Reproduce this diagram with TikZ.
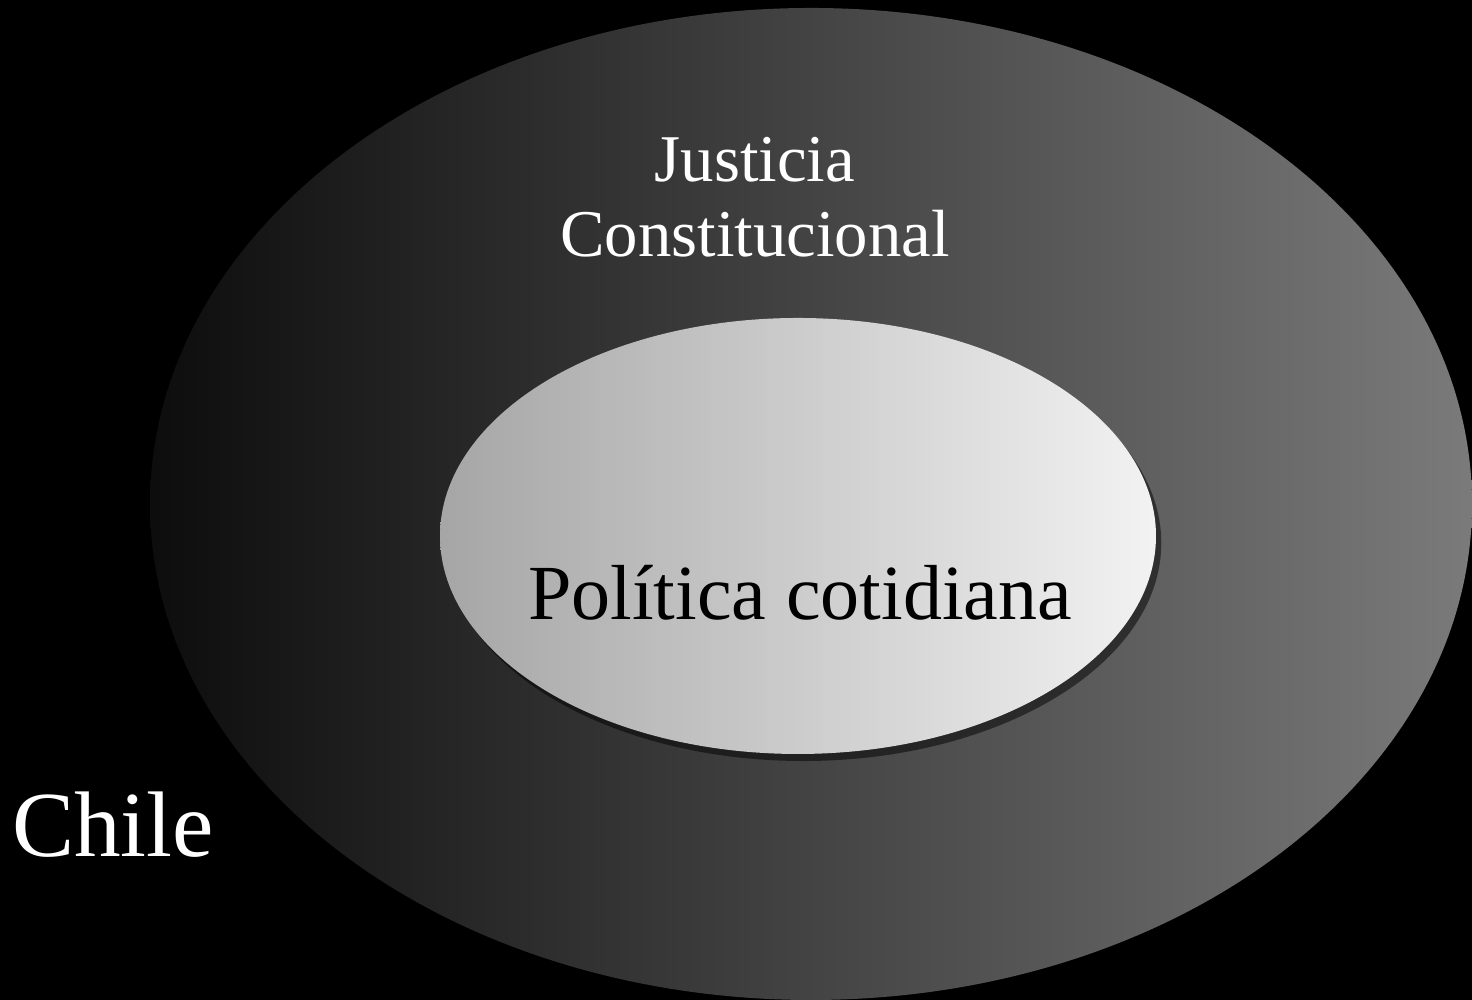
\documentclass[tikz,border=0pt]{standalone}
\usepackage{fontspec}
\setmainfont{Liberation Serif}
\usetikzlibrary{shadows}

\tikzset{
  blanco/.style={text=white, inner sep=0pt, anchor=base},
  negro/.style={text=black, inner sep=0pt, anchor=base},
}

\begin{document}
\begin{tikzpicture}
%\draw[step=1cm,gray,very thin] (0,0) grid (14.72,10); %background grid
\fill[black] (0,0) rectangle (14.72,10);
\useasboundingbox (0,0) rectangle (14.72,10);

% outer ellipse
\shade[left color=black!95, middle color=black!77, right color=black!52] (8.11,4.96) ellipse (6.61 and 4.96);

% inner ellipse
\shade[left color=black!35, right color=black!5,
  drop shadow={shadow xshift=1.5pt, shadow yshift=-2pt, opacity=0.5, fill=black}]
  (7.98,4.64) ellipse (3.58 and 2.18);

\node[blanco, font=\fontsize{19}{22}\selectfont] (jus) at (7.55,8.18) {Justicia};
\node[blanco, font=\fontsize{19}{22}\selectfont] (con) at (7.55,7.43) {Constitucional};

\node[negro, font=\fontsize{22.2}{26}\selectfont] (pol) at (8.0,3.80) {Política cotidiana};

\node[blanco, font=\fontsize{26.5}{30}\selectfont] (chile) at (1.13,1.43) {Chile};

\end{tikzpicture}
\end{document}
